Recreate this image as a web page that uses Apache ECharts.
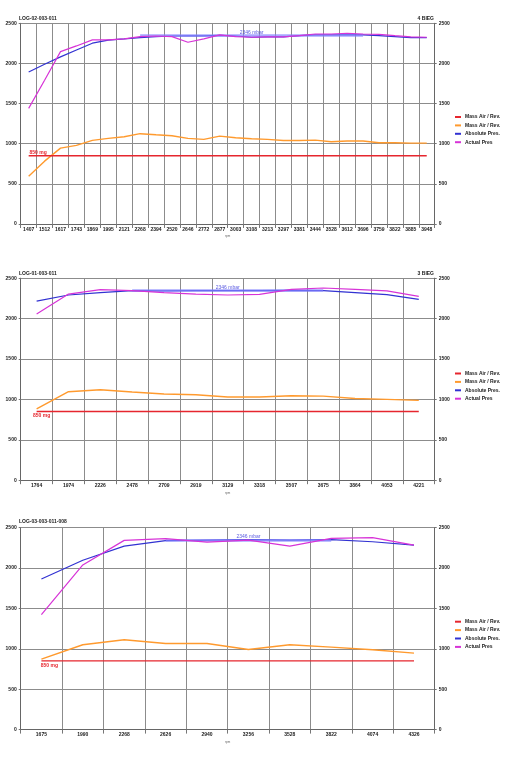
<!DOCTYPE html>
<html><head><meta charset="utf-8">
<script src="https://cdn.jsdelivr.net/npm/echarts@6/dist/echarts.min.js"></script>
<style>html,body{margin:0;padding:0;background:#fff}#c{width:506px;height:768px}</style>
</head><body><div id="c"></div>
<script>
// ---------- Chart 1 (4 BIEG) ----------
const c1Title = 'LOG-02-003-011';
const c1Gear = '4 BIEG';
const c1Cats = ['1407','1512','1617','1743','1869','1995','2121','2268','2394','2520','2646','2772','2877','3003','3108','3213','3297','3381','3444','3528','3612','3696','3759','3822','3885','3948'];
const c1MassAir = [595,783,945,979,1041,1066,1087,1125,1112,1100,1066,1054,1095,1075,1062,1054,1041,1041,1045,1025,1033,1033,1012,1012,1008,1008];
const c1AbsPres = [1894,1990,2082,2168,2252,2290,2305,2321,2334,2342,2344,2344,2350,2342,2326,2330,2330,2346,2355,2355,2355,2355,2346,2334,2321,2321];
const c1ActPres = [1440,1790,2147,2218,2293,2293,2305,2334,2342,2334,2264,2305,2355,2334,2326,2330,2330,2346,2367,2367,2376,2367,2363,2346,2330,2326];
const c1RefRange = ['2268','3696'];

// ---------- Chart 2 (3 BIEG) ----------
const c2Title = 'LOG-01-003-011';
const c2Gear = '3 BIEG';
const c2Cats = ['1764','1974','2226','2478','2709','2919','3129','3318','3507','3675','3864','4053','4221'];
const c2MassAir = [884,1095,1120,1091,1066,1058,1029,1029,1045,1041,1012,1000,988];
const c2AbsPres = [2217,2292,2321,2346,2342,2346,2346,2346,2350,2346,2321,2296,2237];
const c2ActPres = [2058,2304,2358,2346,2321,2304,2292,2300,2362,2379,2362,2342,2275];
const c2RefRange = ['2478','3675'];

// ---------- Chart 3 ----------
const c3Title = 'LOG-03-003-011-008';
const c3Gear = '';
const c3Cats = ['1675','1990','2268','2626','2940','3256','3528','3822','4074','4326'];
const c3MassAir = [872,1050,1112,1066,1066,992,1050,1021,988,946];
const c3AbsPres = [1864,2096,2271,2338,2346,2350,2346,2350,2325,2284];
const c3ActPres = [1423,2038,2342,2363,2321,2346,2271,2367,2375,2284];
const c3RefRange = ['2626','3822'];

// ---------- shared ----------
const massLimit = 850;
const massLimitLabel = '850 mg';
const presRef = 2346;
const presRefLabel = '2346 mbar';
const yTicks = [0, 500, 1000, 1500, 2000, 2500];
const xName = 'rpm';
const seriesNames = ['Mass Air / Rev.', 'Mass Air / Rev. ', 'Absolute Pres.', 'Actual Pres'];

const charts = [
  {title:c1Title, gear:c1Gear, cats:c1Cats, mass:c1MassAir, abs:c1AbsPres, act:c1ActPres, ref:c1RefRange,
   top:23.3, h:200.7, titleTop:16, legTop:114, lblPos:'top', lblOff:[9.5,0]},
  {title:c2Title, gear:c2Gear, cats:c2Cats, mass:c2MassAir, abs:c2AbsPres, act:c2ActPres, ref:c2RefRange,
   top:278.2, h:202, titleTop:271, legTop:370.5, lblPos:'bottom', lblOff:[5,1]},
  {title:c3Title, gear:c3Gear, cats:c3Cats, mass:c3MassAir, abs:c3AbsPres, act:c3ActPres, ref:c3RefRange,
   top:527.6, h:202, titleTop:518.7, legTop:618.7, lblPos:'bottom', lblOff:[8,1]}
];

const FONT = 'Liberation Sans, Arial, sans-serif';
const colors = {red:'#e6262e', orange:'#ff9a2e', blue:'#3232d2', magenta:'#d733d7'};
const numFmt = v => String(v);

const option = {
  animation:false,
  backgroundColor:'#fff',
  textStyle:{fontFamily:FONT},
  title:[], legend:[], grid:[], xAxis:[], yAxis:[], series:[]
};

charts.forEach((c, i) => {
  option.grid.push({left:20.7, right:71.3, top:c.top, height:c.h, containLabel:false});
  option.title.push({text:c.title, left:19, top:c.titleTop, padding:0,
    textStyle:{fontSize:5, fontWeight:'bold', color:'#222', lineHeight:6, fontFamily:FONT}});
  if (c.gear) option.title.push({text:c.gear, right:72, top:c.titleTop, padding:0,
    textStyle:{fontSize:5, fontWeight:'bold', color:'#222', lineHeight:6, fontFamily:FONT}});
  option.legend.push({data:seriesNames, orient:'vertical', left:455, top:c.legTop, padding:0,
    itemWidth:6, itemHeight:2, itemGap:2.4, icon:'rect', selectedMode:false,
    textStyle:{fontSize:5, fontWeight:'bold', color:'#222', lineHeight:6, fontFamily:FONT, padding:[0,0,0,-1]}});
  option.xAxis.push({type:'category', gridIndex:i, data:c.cats, boundaryGap:true,
    name:xName, nameLocation:'middle', nameGap:11, nameTextStyle:{fontSize:3, color:'#666'},
    axisLine:{lineStyle:{color:'#666', width:1}},
    axisTick:{show:true, length:4, interval:0, lineStyle:{color:'#777'}},
    axisLabel:{interval:0, fontSize:5, fontWeight:'bold', color:'#222', margin:3, fontFamily:FONT},
    splitLine:{show:true, interval:0, lineStyle:{color:'#8c8c8c', width:1}}});
  const yBase = {type:'value', gridIndex:i, min:yTicks[0], max:yTicks[yTicks.length-1], interval:yTicks[1]-yTicks[0],
    axisLabel:{fontSize:5, fontWeight:'bold', color:'#222', margin:4, fontFamily:FONT, formatter:numFmt},
    axisTick:{show:true, length:2, lineStyle:{color:'#777'}}};
  option.yAxis.push(Object.assign({}, yBase, {position:'left', axisLine:{show:true, lineStyle:{color:'#666'}},
    splitLine:{show:true, lineStyle:{color:'#8c8c8c', width:1}}}));
  option.yAxis.push(Object.assign({}, yBase, {position:'right', axisLine:{show:true, lineStyle:{color:'#666'}},
    splitLine:{show:false}}));
  const yi = i*2;
  const limitData = c.cats.map(() => massLimit);
  option.series.push({name:seriesNames[0], type:'line', xAxisIndex:i, yAxisIndex:yi, data:limitData,
    symbol:'none', color:colors.red, lineStyle:{color:colors.red, width:1.4}, itemStyle:{color:colors.red}, z:6,
    markPoint:{silent:true, symbol:'circle', symbolSize:0, animation:false,
      label:{show:true, formatter:massLimitLabel, position:c.lblPos, offset:c.lblOff, distance:1,
        fontSize:5, fontWeight:'bold', color:colors.red, fontFamily:FONT},
      data:[{coord:[c.cats[0], massLimit]}]}});
  option.series.push({name:seriesNames[1], type:'line', xAxisIndex:i, yAxisIndex:yi, data:c.mass,
    symbol:'none', color:colors.orange, lineStyle:{color:colors.orange, width:1.4}, itemStyle:{color:colors.orange}, z:3});
  option.series.push({name:seriesNames[2], type:'line', xAxisIndex:i, yAxisIndex:yi, data:c.abs,
    symbol:'none', color:colors.blue, lineStyle:{color:colors.blue, width:1.2}, itemStyle:{color:colors.blue}, z:4,
    markLine:{silent:true, symbol:'none', animation:false,
      lineStyle:{color:'rgba(130,130,255,0.7)', width:2.5, type:'solid'},
      label:{show:true, formatter:presRefLabel, position:'insideMiddleTop', distance:1, fontSize:5,
        color:'#5a5ae0', fontFamily:FONT},
      data:[[{coord:[c.ref[0], presRef]}, {coord:[c.ref[1], presRef]}]]}});
  option.series.push({name:seriesNames[3], type:'line', xAxisIndex:i, yAxisIndex:yi, data:c.act,
    symbol:'none', color:colors.magenta, lineStyle:{color:colors.magenta, width:1.2}, itemStyle:{color:colors.magenta}, z:5});
});

const chart = echarts.init(document.getElementById('c'), null, {renderer:'canvas'});
chart.setOption(option);
</script></body></html>
